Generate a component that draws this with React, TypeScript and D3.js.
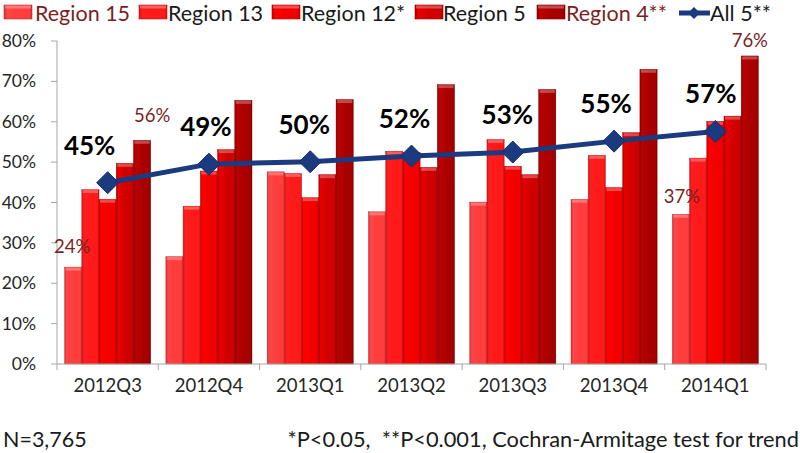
import * as d3 from "d3";

// quarters and series
const quarters = ["2012Q3", "2012Q4", "2013Q1", "2013Q2", "2013Q3", "2013Q4", "2014Q1"];
const seriesNames = ["Region 15", "Region 13", "Region 12*", "Region 5", "Region 4**"];
const region15 = [24, 26.6, 47.6, 37.7, 40.1, 40.8, 37.1];
const region13 = [43.2, 39.1, 47.2, 52.7, 55.6, 51.7, 51];
const region12 = [40.8, 47.8, 41.2, 52.4, 49, 43.7, 60.1];
const region5 = [49.7, 53.1, 46.9, 48.7, 46.9, 57.3, 61.4];
const region4 = [55.4, 65.3, 65.5, 69.2, 68, 73, 76.3];
const all5 = [44.9, 49.5, 50.1, 51.5, 52.5, 55.2, 57.6];
const all5Labels = ["45%", "49%", "50%", "52%", "53%", "55%", "57%"];
const yTicks = [0, 10, 20, 30, 40, 50, 60, 70, 80];

const seriesValues = [region15, region13, region12, region5, region4];
const baseColors = ["#ff3d3d", "#ff1a1a", "#f20000", "#d00000", "#a80000"];

// labels were nudged by hand in the original
const all5LabelShift = [-18, -3, -6, -7, -5.5, -8, -4.5];

// the few value labels Excel showed on single bars
const barLabels = [
  { q: 0, s: 0, text: "24%", dx: -1, dy: -14 },
  { q: 0, s: 4, text: "56%", dx: 10, dy: -18 },
  { q: 6, s: 0, text: "37%", dx: 1, dy: -11 },
  { q: 6, s: 4, text: "76%", dx: 0, dy: -9 },
];

const font = "Lato, 'Open Sans', sans-serif";
const labelRed = "#7a1f1f";
const navy = "#1b3a80";

export default function App() {
  const width = 800;
  const height = 453;
  const left = 57;
  const right = 766;
  const bottom = 364;

  const y = d3.scaleLinear().domain([0, 80]).range([bottom, 41]);
  const x = d3.scaleBand().domain(quarters).range([left, right]).paddingInner(0).paddingOuter(0);
  const xs = d3.scaleBand().domain(seriesNames).range([0, x.bandwidth()]).paddingInner(0).paddingOuter(0.44);
  const cx = (q: string) => (x(q) as number) + x.bandwidth() / 2;

  const line = d3.line<number>().x((_, i) => cx(quarters[i])).y((d) => y(d));

  const diamond = (px: number, py: number, r: number) =>
    `M${px},${py - r}L${px + r},${py}L${px},${py + r}L${px - r},${py}Z`;

  const legendItems = [
    { name: "Region 15", sx: 4, tx: 35, color: labelRed },
    { name: "Region 13", sx: 139, tx: 168, color: "#1a1a1a" },
    { name: "Region 12*", sx: 272, tx: 301, color: "#1a1a1a" },
    { name: "Region 5", sx: 415, tx: 443, color: "#1a1a1a" },
    { name: "Region 4**", sx: 537, tx: 566, color: labelRed },
  ];

  return (
    <svg width={width} height={height} style={{ position: "absolute", left: 0, top: 0, background: "#fff" }} fontFamily={font}>
      <defs>
        {baseColors.map((c, i) => {
          const col = d3.color(c)!;
          return (
            <linearGradient key={i} id={`bar${i}`} x1="0" x2="1" y1="0" y2="0">
              <stop offset="0" stopColor={col.darker(0.6).toString()} />
              <stop offset="0.12" stopColor={col.brighter(0.35).toString()} />
              <stop offset="0.5" stopColor={c} />
              <stop offset="0.9" stopColor={c} />
              <stop offset="1" stopColor={col.darker(0.7).toString()} />
            </linearGradient>
          );
        })}
      </defs>

      {/* legend */}
      {legendItems.map((d, i) => (
        <g key={d.name}>
          <rect x={d.sx} y={5} width={28} height={14} fill={`url(#bar${i})`} stroke={d3.color(baseColors[i])!.darker(0.8).toString()} strokeWidth={0.6} />
          <rect x={d.sx + 1} y={5.5} width={26} height={3} fill="#fff" opacity={0.3} />
          <text x={d.tx} y={20.5} fontSize={21.5} fill={d.color}>{d.name}</text>
        </g>
      ))}
      <line x1={679} x2={710} y1={13} y2={13} stroke={navy} strokeWidth={5} />
      <path d={diamond(694, 13, 6)} fill={navy} />
      <text x={710} y={20.5} fontSize={21.5} fill="#1a1a1a">All 5**</text>

      {/* y axis */}
      <line x1={left} x2={left} y1={y(80)} y2={bottom} stroke="#a6a6a6" />
      {yTicks.map((t) => (
        <g key={t}>
          <line x1={left - 6} x2={left} y1={y(t)} y2={y(t)} stroke="#a6a6a6" />
          <text x={36} y={y(t) + 6} fontSize={17.5} textAnchor="end" fill="#262626">{t}%</text>
        </g>
      ))}

      {/* bars */}
      {quarters.map((q, qi) => (
        <g key={q} transform={`translate(${x(q)},0)`}>
          {seriesNames.map((s, si) => {
            const v = seriesValues[si][qi];
            const bx = xs(s) as number;
            const top = y(v);
            return (
              <g key={s}>
                <rect x={bx} y={top} width={xs.bandwidth()} height={bottom - top} fill={`url(#bar${si})`} stroke={d3.color(baseColors[si])!.darker(0.9).toString()} strokeWidth={0.4} />
                <rect x={bx + 1} y={top + 0.5} width={xs.bandwidth() - 2} height={3} fill="#fff" opacity={0.28} />
              </g>
            );
          })}
        </g>
      ))}

      {/* x axis */}
      <line x1={left} x2={right} y1={bottom} y2={bottom} stroke="#a6a6a6" />
      {[...quarters.map((q) => x(q) as number), right].map((t, i) => (
        <line key={i} x1={t} x2={t} y1={bottom} y2={bottom + 6} stroke="#a6a6a6" />
      ))}
      {quarters.map((q) => (
        <text key={q} x={cx(q)} y={392} fontSize={18.5} textAnchor="middle" fill="#262626">{q}</text>
      ))}

      {/* bar value labels */}
      {barLabels.map((d) => {
        const q = quarters[d.q];
        const bx = (x(q) as number) + (xs(seriesNames[d.s]) as number) + xs.bandwidth() / 2;
        return (
          <text key={d.text} x={bx + d.dx} y={y(seriesValues[d.s][d.q]) + d.dy} fontSize={18.5} textAnchor="middle" fill={labelRed}>{d.text}</text>
        );
      })}

      {/* overall line */}
      <path d={line(all5) as string} fill="none" stroke={navy} strokeWidth={5} />
      {all5.map((v, i) => (
        <path key={i} d={diamond(cx(quarters[i]), y(v), 11)} fill={navy} stroke="#15306a" strokeWidth={1} />
      ))}
      {all5.map((v, i) => (
        <text key={i} x={cx(quarters[i]) + all5LabelShift[i]} y={y(v) - 28} fontSize={26} fontWeight="bold" textAnchor="middle" fill="#000">{all5Labels[i]}</text>
      ))}

      {/* footnotes */}
      <text x={3} y={447} fontSize={21.5} fill="#1a1a1a">N=3,765</text>
      <text x={799} y={447} fontSize={21.8} textAnchor="end" fill="#1a1a1a" xmlSpace="preserve">*P&lt;0.05,  **P&lt;0.001, Cochran-Armitage test for trend</text>
    </svg>
  );
}
